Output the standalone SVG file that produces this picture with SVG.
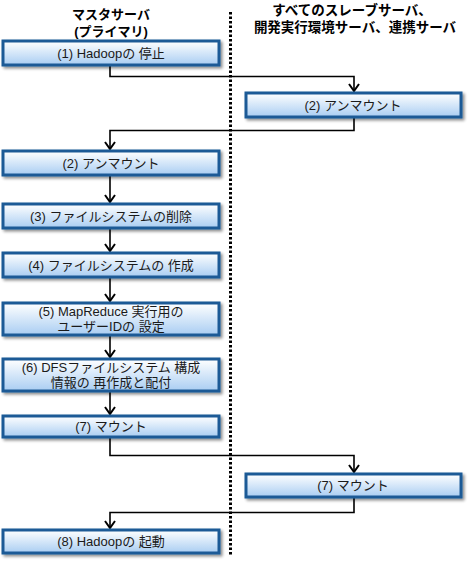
<svg xmlns="http://www.w3.org/2000/svg" width="469" height="562" viewBox="0 0 469 562">
<defs>
<linearGradient id="g" x1="0" y1="0" x2="0" y2="1">
<stop offset="0" stop-color="#ffffff"/>
<stop offset="0.25" stop-color="#eaf3fc"/>
<stop offset="1" stop-color="#a9cdf2"/>
</linearGradient>
<filter id="sh" x="-10%" y="-30%" width="120%" height="170%">
<feGaussianBlur in="SourceAlpha" stdDeviation="1.5"/>
<feOffset dx="2" dy="2" result="b"/>
<feComponentTransfer><feFuncA type="linear" slope="0.45"/></feComponentTransfer>
<feMerge><feMergeNode/><feMergeNode in="SourceGraphic"/></feMerge>
</filter>
</defs>
<style>
.box{fill:url(#g);stroke:#1d5a96;stroke-width:3;filter:url(#sh)}
.t{font-family:"Liberation Sans","Noto Sans CJK JP",sans-serif;font-size:13px;fill:#1a1a1a;text-anchor:middle}
.h{font-family:"Liberation Sans","Noto Sans CJK JP",sans-serif;font-size:13px;font-weight:bold;fill:#000;text-anchor:middle}
.ln{fill:none;stroke:#000;stroke-width:1.6}
.arr{fill:none;stroke:#000;stroke-width:2}
</style>
<line x1="230.5" y1="12" x2="230.5" y2="556" stroke="#000" stroke-width="3" stroke-dasharray="2.5 2"/>
<g id="headers">
<text class="h"><tspan x="111" y="19">マスタサーバ</tspan><tspan x="111" y="36">(プライマリ)</tspan></text>
<text class="h" style="font-size:13.5px"><tspan x="352" y="15">すべてのスレーブサーバ、</tspan><tspan x="355" y="32">開発実行環境サーバ、連携サーバ</tspan></text>
</g>
<g id="connectors">
<polyline class="ln" points="110,66 110,76.5 354,76.5 354,91"/>
<polyline class="arr" points="349,84 354,91 359,84"/>
<polyline class="ln" points="354,118 354,130.5 110,130.5 110,149"/>
<polyline class="arr" points="105,142 110,149 115,142"/>
<line class="ln" x1="110" y1="175" x2="110" y2="202"/>
<polyline class="arr" points="105,195 110,202 115,195"/>
<line class="ln" x1="110" y1="229" x2="110" y2="251"/>
<polyline class="arr" points="105,244 110,251 115,244"/>
<line class="ln" x1="110" y1="277" x2="110" y2="301"/>
<polyline class="arr" points="105,294 110,301 115,294"/>
<line class="ln" x1="110" y1="335" x2="110" y2="357"/>
<polyline class="arr" points="105,350 110,357 115,350"/>
<line class="ln" x1="110" y1="392" x2="110" y2="414"/>
<polyline class="arr" points="105,407 110,414 115,407"/>
<polyline class="ln" points="110,437 110,455.5 354,455.5 354,472"/>
<polyline class="arr" points="349,465 354,472 359,465"/>
<polyline class="ln" points="354,498 354,512.5 110,512.5 110,528"/>
<polyline class="arr" points="105,521 110,528 115,521"/>
</g>
<g id="n1"><rect class="box" x="3" y="41" width="216" height="24"/><text class="t" x="111" y="58">(1) Hadoopの 停止</text></g>
<g id="n2r"><rect class="box" x="246" y="93" width="215" height="24"/><text class="t" x="353" y="110">(2) アンマウント</text></g>
<g id="n2"><rect class="box" x="3" y="151" width="216" height="24"/><text class="t" x="111" y="168">(2) アンマウント</text></g>
<g id="n3"><rect class="box" x="3" y="204" width="216" height="24"/><text class="t" x="111" y="221">(3) ファイルシステムの削除</text></g>
<g id="n4"><rect class="box" x="3" y="253" width="216" height="24"/><text class="t" x="111" y="270">(4) ファイルシステムの 作成</text></g>
<g id="n5"><rect class="box" x="3" y="303" width="216" height="32"/><text class="t"><tspan x="111" y="316">(5) MapReduce 実行用の</tspan><tspan x="111" y="331">ユーザーIDの 設定</tspan></text></g>
<g id="n6"><rect class="box" x="3" y="359" width="216" height="32"/><text class="t"><tspan x="111" y="372">(6) DFSファイルシステム 構成</tspan><tspan x="111" y="387">情報の 再作成と配付</tspan></text></g>
<g id="n7"><rect class="box" x="3" y="416" width="216" height="21"/><text class="t" x="111" y="431">(7) マウント</text></g>
<g id="n7r"><rect class="box" x="246" y="474" width="215" height="23"/><text class="t" x="353" y="490">(7) マウント</text></g>
<g id="n8"><rect class="box" x="3" y="530" width="216" height="23"/><text class="t" x="111" y="546">(8) Hadoopの 起動</text></g>
</svg>
